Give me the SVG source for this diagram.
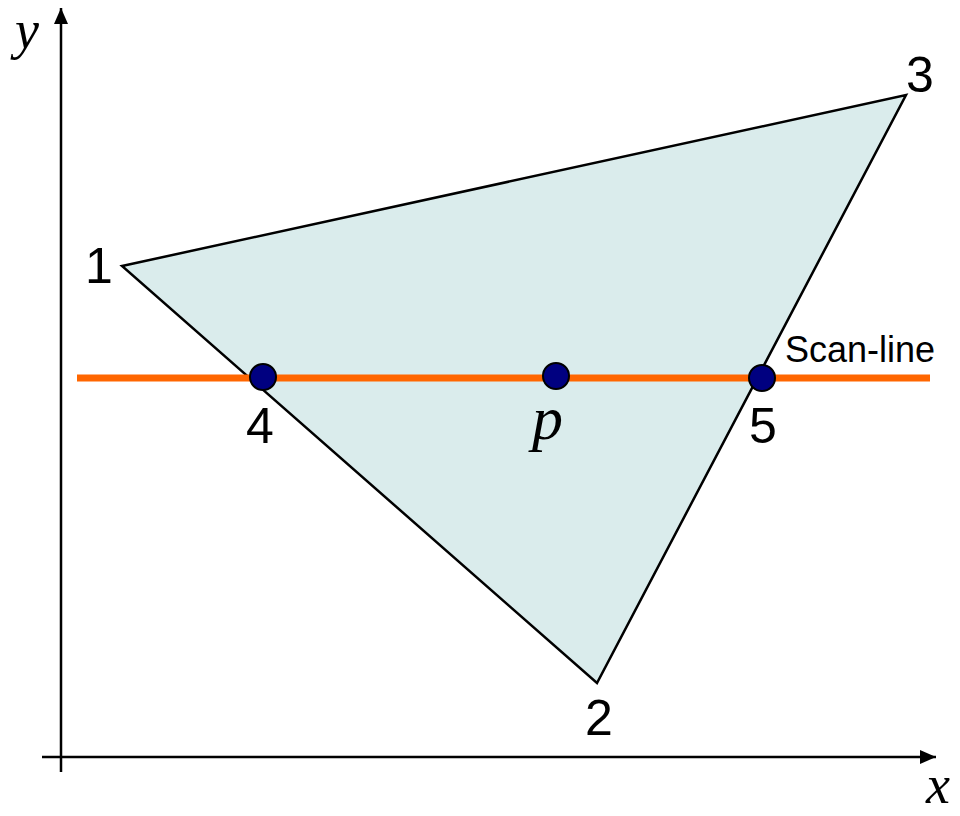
<svg xmlns="http://www.w3.org/2000/svg" width="960" height="816" viewBox="0 0 960 816">
<defs>
<marker id="arrbig" viewBox="0 0 16 14" refX="16" refY="7" markerWidth="16" markerHeight="14" orient="auto" markerUnits="userSpaceOnUse">
<path d="M0,0 L16,7 L0,14 Z" fill="#000"/>
</marker>
</defs>
<style>
.num{font-family:"Liberation Sans",Arial,sans-serif;font-size:50px;fill:#000}
.it{font-family:"Liberation Serif","Times New Roman",serif;font-style:italic;fill:#000}
.pt{fill:#000080;stroke:#000;stroke-width:2}
</style>
<g id="axes">
<line x1="61" y1="772" x2="61" y2="8" stroke="#000" stroke-width="2.5" marker-end="url(#arrbig)"/>
<line x1="42" y1="757" x2="936" y2="757" stroke="#000" stroke-width="2.5" marker-end="url(#arrbig)"/>
<text class="it" x="15" y="48" font-size="54">y</text>
<text class="it" x="926" y="803" font-size="54">x</text>
</g>
<g id="triangle">
<polygon points="122,266 906,95 597,683" fill="#daecec" stroke="#000" stroke-width="2.5" stroke-linejoin="miter"/>
<text class="num" x="85" y="283">1</text>
<text class="num" x="906" y="92">3</text>
<text class="num" x="585" y="735">2</text>
</g>
<g id="scanline">
<line x1="77" y1="378" x2="930" y2="378" stroke="#ff6600" stroke-width="7"/>
<text x="785" y="362" font-family="'Liberation Sans',Arial,sans-serif" font-size="36" fill="#000">Scan-line</text>
</g>
<g id="point4">
<circle class="pt" cx="263" cy="377" r="13"/>
<text class="num" x="246" y="443">4</text>
</g>
<g id="pointp">
<circle class="pt" cx="556" cy="376" r="13"/>
<text class="it" x="532" y="439" font-size="62">p</text>
</g>
<g id="point5">
<circle class="pt" cx="762" cy="378" r="13"/>
<text class="num" x="749" y="443">5</text>
</g>
</svg>
